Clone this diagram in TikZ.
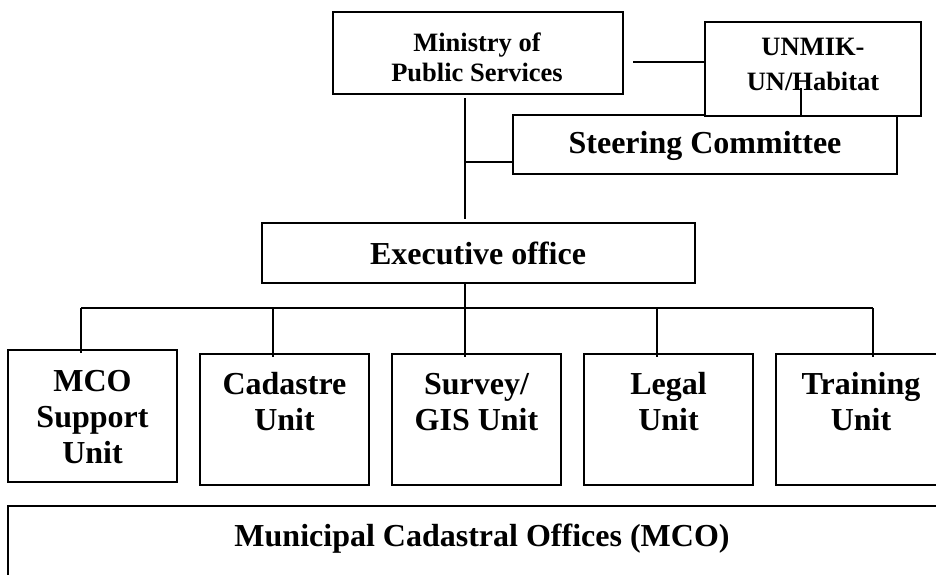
\documentclass[tikz,border=0pt]{standalone}
\usepackage{fontspec}
\setmainfont{Liberation Serif}
\usepackage{tikz}

\begin{document}
\begin{tikzpicture}[x=1pt, y=-1pt,
		box/.style={draw, line width=1.8pt, inner sep=0pt},
		unitbox/.style={box, minimum width=169pt, minimum height=131pt},
		big/.style={font=\bfseries\fontsize{32}{36}\selectfont, align=center},
		small/.style={font=\bfseries\fontsize{26.5}{30}\selectfont, align=center},
		link/.style={line width=1.5pt}]
		\useasboundingbox (0,0) rectangle (936,574);
		\clip (0,0) rectangle (936,574);

		\node[box, minimum width=290pt, minimum height=82pt] (ministry) at (478,53) {};
		\node[box, minimum width=384pt, minimum height=59pt] (steer) at (705,144.5) {};
		\node[box, fill=white, minimum width=216pt, minimum height=94pt] (unmik) at (813,69) {};
		\node[box, minimum width=433pt, minimum height=60pt] (exec) at (478.5,253) {};

		\node[box, minimum width=169pt, minimum height=132pt] (mcos) at (92.5,416) {};
		\node[unitbox] (cad) at (284.5,419.5) {};
		\node[unitbox] (survey) at (476.5,419.5) {};
		\node[unitbox] (legal) at (668.5,419.5) {};
		\node[unitbox] (train) at (860.5,419.5) {};

		\node[box, minimum width=948pt, minimum height=100pt] (mco) at (482,556) {};

		\node[small] (ministryT) at (477,57) {Ministry of\\Public Services};
		\node[small] (unmikT) at (813,64.5) {UNMIK-\\[5pt]UN/Habitat};
		\node[big] (steerT) at (705,146) {Steering Committee};
		\node[big] (execT) at (478,253.5) {Executive office};
		\node[big] (mcosT) at (92.5,417) {MCO\\Support\\Unit};
		\node[big] (cadT) at (284.5,402) {Cadastre\\Unit};
		\node[big] (surveyT) at (476.5,402) {Survey/\\GIS Unit};
		\node[big] (legalT) at (668.5,402) {Legal\\Unit};
		\node[big] (trainT) at (861,402) {Training\\Unit};
		\node[big] (mcoT) at (482,539) {Municipal Cadastral Offices (MCO)};

		\coordinate (m2u) at (633,62);
		\draw[link] (m2u) -- (m2u -| unmik.west);
		\coordinate (uin) at (801,88);
		\draw[link] (uin) -- (uin |- unmik.south);

		\coordinate (mtop) at (465,98);
		\coordinate (mbot) at (465,219);
		\draw[link] (mtop) -- (mbot);
		\coordinate (sjoin) at (465,162);
		\draw[link] (sjoin) -- (sjoin -| steer.west);

		\coordinate (bus) at (465,308);
		\draw[link] (bus |- exec.south) -- (bus);
		\foreach \x/\n in {81/mcos, 273/cad, 465/survey, 657/legal, 873/train} {
			\coordinate (d\n) at (\x,308);
			\draw[link] (d\n) -- ([yshift=-4pt]d\n |- \n.north);
		}
		\draw[link] (dmcos) -- (dtrain);
	\end{tikzpicture}
\end{document}
